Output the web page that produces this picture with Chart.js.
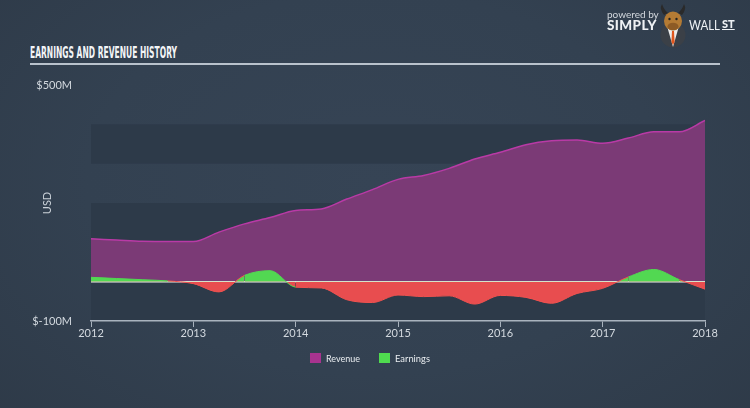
<!DOCTYPE html>
<html>
<head>
<meta charset="utf-8">
<script src="https://cdn.jsdelivr.net/npm/chart.js@4.4.0/dist/chart.umd.min.js"></script>
<style>
html,body{margin:0;padding:0;}
body{width:750px;height:408px;overflow:hidden;position:relative;
  background:radial-gradient(ellipse 70% 85% at 50% 45%, #364455 0%, #334151 55%, #2e3a48 100%);
  font-family:Lato,"Open Sans",sans-serif;}
#title{position:absolute;left:30px;top:45px;font-family:"Liberation Sans Narrow","DejaVu Sans Condensed","DejaVu Sans",sans-serif;
  font-weight:bold;font-size:16px;line-height:16px;color:#f3f5f7;white-space:nowrap;transform-origin:0 0;}
#rule{position:absolute;left:30px;top:63px;width:690px;height:2px;background:#b9c2cc;}
#chart{position:absolute;left:0;top:0;}
.lg{position:absolute;top:353px;height:10px;}
.lgt{position:absolute;top:352px;font-size:10px;line-height:12px;color:#e9edf0;white-space:nowrap;}
.logo{position:absolute;white-space:nowrap;color:#eef1f4;}
</style>
</head>
<body>
<div id="title">EARNINGS AND REVENUE HISTORY</div>
<div id="rule"></div>
<canvas id="chart" width="750" height="408"></canvas>

<div class="lg" style="left:310px;width:11px;background:#a8338f;"></div>
<div class="lgt" id="lgRev" style="left:326px;">Revenue</div>
<div class="lg" style="left:379px;width:11px;background:#4fdb4f;"></div>
<div class="lgt" id="lgEarn" style="left:395px;">Earnings</div>

<div class="logo" style="left:607px;top:9px;font-size:10px;line-height:10px;color:#d3d8de;">powered by</div>
<div class="logo" style="left:607px;top:19px;font-size:13.5px;line-height:13px;font-weight:900;letter-spacing:0.4px;">SIMPLY</div>
<svg class="logo" style="left:656px;top:4px;" width="34" height="44" viewBox="0 0 34 44">
  <circle cx="17" cy="31" r="12.5" fill="#3b4047"/>
  <path d="M11 22 L17 43 L23 22 Z" fill="#ececec"/>
  <path d="M16 27 L18 27 L18.6 38 L17 41 L15.4 38 Z" fill="#e0561d"/>
  <path d="M8 11 Q3 5 6 0 Q8 6 12 9 Z" fill="#2a2a2a"/>
  <path d="M26 11 Q31 5 28 0 Q26 6 22 9 Z" fill="#2a2a2a"/>
  <ellipse cx="17" cy="17" rx="9" ry="9.5" fill="#b47b34"/>
  <ellipse cx="17" cy="22.5" rx="5.5" ry="3.8" fill="#8d5b25"/>
  <circle cx="13.5" cy="15" r="1.2" fill="#222"/>
  <circle cx="20.5" cy="15" r="1.2" fill="#222"/>
</svg>
<div class="logo" id="wall" style="left:689px;top:19px;font-size:13px;line-height:13px;font-weight:400;">WALL</div>
<div class="logo" style="left:722px;top:18px;font-size:11px;line-height:11px;font-weight:900;text-decoration:underline;">ST</div>

<script>
// ---- data ----
const quarters = [2012, 2012.25, 2012.5, 2012.75, 2013, 2013.25, 2013.5, 2013.75,
                  2014, 2014.25, 2014.5, 2014.75, 2015, 2015.25, 2015.5, 2015.75,
                  2016, 2016.25, 2016.5, 2016.75, 2017, 2017.25, 2017.5, 2017.75, 2018];
const revenue  = [109, 106, 103, 102, 102, 126, 147, 163,
                  181, 185, 210, 234, 260, 270, 288, 312,
                  329, 348, 358, 360, 352, 365, 381, 381, 410];
const earnings = [11, 8, 5, 2, -5, -26, 16, 28,
                  -14, -16, -46, -53, -34, -38, -36, -57,
                  -35, -40, -55, -30, -17, 12, 31, 5, -19];
const xTickYears  = [2012, 2013, 2014, 2015, 2016, 2017, 2018];
const yTickValues = [-100, 500];
const yTickLabels = ['$-100M', '$500M'];
const seriesNames = ['Revenue', 'Earnings'];

// ---- text width fits ----
function fitWidth(id, target) {
  const t = document.getElementById(id);
  t.style.transformOrigin = '0 0';
  const w = t.getBoundingClientRect().width;
  t.style.transform = 'scaleX(' + (target / w) + ')';
}
fitWidth('title', 147);
fitWidth('wall', 31);
fitWidth('lgRev', 34);
fitWidth('lgEarn', 35);

const bandsPlugin = {
  id: 'bands',
  beforeDraw(chart) {
    const {ctx, chartArea: a, scales: {y}} = chart;
    ctx.save();
    ctx.fillStyle = '#2d3a49';
    [[300, 400], [-100, 200]].forEach(([lo, hi]) => {
      const t = y.getPixelForValue(hi), b = y.getPixelForValue(lo);
      ctx.fillRect(a.left, t, a.right - a.left, b - t);
    });
    ctx.restore();
  }
};
const zeroPlugin = {
  id: 'zeroLine',
  afterDatasetDraw(chart, args) {
    if (args.index !== 0) return;
    const {ctx, chartArea: a, scales: {y}} = chart;
    const py = y.getPixelForValue(0);
    ctx.save();
    ctx.strokeStyle = '#f2f2f2';
    ctx.lineWidth = 1.5;
    ctx.beginPath();
    ctx.moveTo(a.left, py);
    ctx.lineTo(a.right, py);
    ctx.stroke();
    ctx.restore();
  }
};

const GREEN = '#52d852', RED = '#e84d4f';
new Chart(document.getElementById('chart'), {
  type: 'line',
  data: {
    datasets: [
      {
        label: seriesNames[0],
        data: quarters.map((q, i) => ({x: q, y: revenue[i]})),
        borderColor: '#b93aa6', backgroundColor: '#7b3a76', borderWidth: 1.5,
        fill: 'origin', pointRadius: 0, cubicInterpolationMode: 'monotone', order: 2
      },
      {
        label: seriesNames[1],
        data: quarters.map((q, i) => ({x: q, y: earnings[i]})),
        borderColor: RED, backgroundColor: GREEN, borderWidth: 1,
        fill: {target: 'origin', above: GREEN, below: RED},
        pointRadius: 0, cubicInterpolationMode: 'monotone', order: 1,
        segment: {borderColor: c => ((c.p0.parsed.y + c.p1.parsed.y) / 2 >= 0 ? GREEN : '#f0524f')}
      }
    ]
  },
  options: {
    responsive: false, animation: false, events: [],
    layout: {padding: {left: 0, right: 45, top: 85, bottom: 57}},
    plugins: {legend: {display: false}, tooltip: {enabled: false}},
    scales: {
      x: {
        type: 'linear', min: 2012, max: 2018,
        afterBuildTicks: s => { s.ticks = xTickYears.map(v => ({value: v})); },
        ticks: {callback: v => String(v), color: '#d3d9df', font: {family: 'Lato', size: 11},
                padding: 0, maxRotation: 0, autoSkip: false},
        grid: {drawOnChartArea: false, drawTicks: true, tickLength: 6, color: '#a9b3be', lineWidth: 1},
        border: {color: '#a9b3be', width: 1.5},
        afterFit: s => { s.height = 30; }
      },
      y: {
        min: -100, max: 500,
        afterBuildTicks: s => { s.ticks = yTickValues.map(v => ({value: v})); },
        ticks: {callback: v => yTickLabels[yTickValues.indexOf(v)], color: '#d3d9df',
                font: {family: 'Lato', size: 11}, padding: 11},
        grid: {display: false},
        border: {display: false},
        title: {display: true, text: 'USD', color: '#c9d0d7', font: {family: 'Lato', size: 11},
                padding: {top: 41, bottom: 0}},
        afterFit: s => { s.width = 91; }
      }
    }
  },
  plugins: [bandsPlugin, zeroPlugin]
});
</script>
</body>
</html>
